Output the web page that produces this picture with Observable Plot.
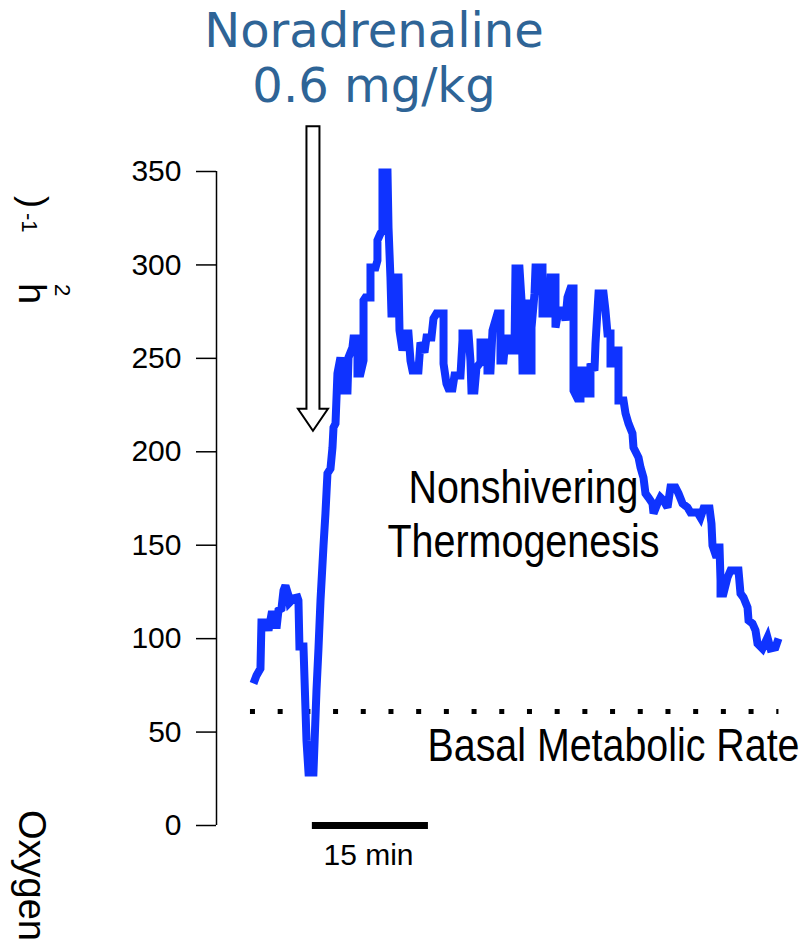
<!DOCTYPE html>
<html>
<head>
<meta charset="utf-8">
<script src="https://cdn.jsdelivr.net/npm/d3@7"></script>
<script src="https://cdn.jsdelivr.net/npm/@observablehq/plot@0.6"></script>
<style>
  body { margin: 0; background: #fff; }
  #wrap { position: relative; width: 803px; height: 949px; overflow: hidden; background: #fff; }
  #title { position: absolute; left: 0; top: 0; width: 748px; text-align: center;
           font-family: "DejaVu Sans", sans-serif; font-size: 48px; line-height: 55px;
           color: #2e6496; padding-top: 3px; }
  #chart { position: absolute; left: 0; top: 120px; }
  #ylab { position: absolute; left: 0; top: 0; pointer-events: none; }
</style>
</head>
<body>
<div id="wrap">
  <div id="title">Noradrenaline<br>0.6 mg/kg</div>
  <div id="chart"></div>
</div>
<script>
// ---- data (time in minutes from start of trace, oxygen consumption) ----
const minutes = [0.39,0.78,1.29,1.42,2.07,2.33,2.71,3.10,3.36,3.62,4.01,4.27,4.52,4.91,5.04,5.56,6.07,6.20,6.33,6.85,
  7.24,7.50,8.14,8.53,8.79,9.05,9.44,9.69,9.95,10.34,10.60,10.73,10.99,11.24,11.63,12.02,12.54,12.67,13.18,13.31,
  13.83,13.83,14.22,14.61,14.61,14.86,15.51,15.51,16.16,16.41,16.41,16.80,17.06,17.06,17.71,17.84,18.09,18.22,18.48,18.74,
  19.13,19.26,19.65,20.03,20.42,20.68,20.94,21.71,21.97,22.49,22.75,23.39,23.65,24.04,24.95,24.95,25.33,25.59,26.11,26.37,
  27.14,27.40,27.40,28.18,28.43,28.56,28.95,29.21,29.73,29.73,30.63,30.63,31.02,31.28,31.92,32.31,32.31,32.70,32.96,33.61,
  33.73,34.12,34.25,34.77,35.03,35.16,35.67,35.67,35.93,35.93,36.32,36.32,36.71,36.84,37.74,37.74,38.52,38.78,39.42,39.42,
  39.81,40.46,40.71,40.97,41.36,41.75,41.75,42.26,42.65,42.65,43.30,43.56,43.94,43.94,44.46,44.59,44.98,45.63,45.88,46.14,
  46.53,46.53,47.18,47.18,47.56,47.56,48.21,48.47,48.86,49.37,49.50,50.15,50.41,50.79,51.05,51.44,51.96,52.09,52.60,52.99,
  53.38,53.90,54.28,54.93,55.32,55.84,56.48,56.87,57.77,58.16,58.55,59.33,59.58,59.71,60.23,60.36,60.62,60.75,60.75,61.13,
  61.65,62.04,63.07,63.33,63.72,64.24,64.37,64.88,65.27,65.53,66.17,66.82,67.21,67.85,68.24];
const oxygen = [76.0,80.3,84.0,108.6,108.6,104.4,112.9,112.9,105.4,115.1,116.1,125.8,128.4,123.1,119.3,121.5,122.0,120.4,95.8,95.8,
  45.5,28.4,28.4,72.2,94.7,120.4,149.8,167.0,188.4,191.0,202.3,213.0,215.1,241.9,250.5,232.8,232.8,250.5,255.8,260.6,
  260.6,241.9,241.9,248.8,281.0,282.6,282.6,298.6,298.6,302.4,313.1,316.8,318.4,349.5,349.5,320.0,293.3,274.0,274.0,293.3,
  293.3,264.9,254.2,263.3,263.3,248.8,243.5,243.5,258.5,253.1,261.2,261.2,271.3,274.0,274.0,247.2,236.5,233.9,233.9,240.8,
  240.8,259.6,263.3,263.3,248.8,232.8,232.8,245.1,247.8,258.5,258.5,243.5,243.5,264.9,274.0,274.0,248.8,248.8,260.6,260.6,
  254.2,254.2,298.1,298.1,281.0,243.5,243.5,279.4,279.4,243.5,243.5,266.5,284.7,298.6,298.6,274.0,274.0,293.3,293.3,266.5,
  275.6,275.6,270.3,282.6,287.4,287.4,232.8,228.5,228.5,243.5,243.5,231.2,231.2,247.2,243.5,257.9,284.7,284.7,275.6,263.3,
  263.3,247.2,247.2,254.2,254.2,227.4,227.4,220.5,215.1,209.8,202.3,196.9,191.6,186.2,177.7,175.5,172.3,167.0,172.3,175.5,
  173.9,170.2,180.9,180.9,177.7,172.3,170.2,167.5,167.5,164.8,169.6,169.6,161.6,149.8,143.4,148.8,148.8,131.1,124.2,124.2,
  132.7,136.5,136.5,124.2,122.0,116.7,109.7,108.1,104.4,97.4,94.7,100.6,94.7,95.3,100.1];
const yTicks = [0, 50, 100, 150, 200, 250, 300, 350];
const basalRate = 61;            // basal metabolic rate level
const injectionTime = 8.14;      // noradrenaline injection (min)
const arrowTop = 374, arrowTip = 211;   // arrow extent in oxygen units
const scaleBarStart = 8.0, scaleBarLength = 15;   // "15 min" bar
const xMin = -4.39, xMax = 68.5;

const points = minutes.map((m, i) => ({m, v: oxygen[i]}));
const annFont = "'Liberation Sans', Arial, sans-serif";

const plot = Plot.plot({
  width: 803,
  height: 829,
  marginLeft: 216,
  marginRight: 23,
  marginTop: 51,
  marginBottom: 124,
  x: {domain: [xMin, xMax], axis: null},
  y: {domain: [0, 350], axis: null},
  style: {fontFamily: annFont, fontSize: "30px", background: "white", overflow: "visible", color: "black"},
  marks: [
    Plot.axisY(yTicks, {tickSize: 20, tickPadding: 15, tickFormat: d => String(d), strokeWidth: 1.5, label: null}),
    Plot.ruleX([xMin], {y1: 0, y2: 350, strokeWidth: 1.5}),
    Plot.ruleY([basalRate], {x1: 0, x2: 68.3, strokeWidth: 5, strokeDasharray: "5 22.7"}),
    Plot.ruleY([0], {x1: scaleBarStart, x2: scaleBarStart + scaleBarLength, strokeWidth: 7}),
    Plot.text(["15 min"], {x: scaleBarStart + scaleBarLength / 2 - 0.25, y: -9.6, lineAnchor: "top", textAnchor: "middle", fontSize: 30}),
    Plot.text(["Nonshivering"], {x: 35.28, y: 190, lineAnchor: "top", textAnchor: "middle", fontSize: 46}),
    Plot.text(["Thermogenesis"], {x: 35.28, y: 161.3, lineAnchor: "top", textAnchor: "middle", fontSize: 46}),
    Plot.text(["Basal Metabolic Rate"], {x: 22.88, y: 51.9, lineAnchor: "top", textAnchor: "start", fontSize: 46}),
    Plot.line(points, {x: "m", y: "v", stroke: "#0f33ff", strokeWidth: 8, strokeLinejoin: "miter", strokeMiterlimit: 3, strokeLinecap: "butt"})
  ]
});
document.getElementById("chart").appendChild(plot);

// condense the annotation texts to the widths of the reference lettering
const widths = {"Nonshivering": 230, "Thermogenesis": 272, "Basal Metabolic Rate": 372};
d3.select(plot).selectAll("text").each(function () {
  const w = widths[this.textContent];
  if (w) d3.select(this).attr("textLength", w).attr("lengthAdjust", "spacingAndGlyphs");
});

// hollow arrow marking the injection, positioned with the plot's scales
const sx = plot.scale("x"), sy = plot.scale("y");
const ax = sx.apply(injectionTime), at = sy.apply(arrowTop), ap = sy.apply(arrowTip);
d3.select(plot).append("path")
  .attr("d", `M${ax - 6.5},${at}H${ax + 6.5}V${ap - 22}H${ax + 15}L${ax},${ap}L${ax - 15},${ap - 22}H${ax - 6.5}Z`)
  .attr("fill", "white").attr("stroke", "black").attr("stroke-width", 2);

// y-axis label fragments (rotated clockwise, reading downward)
const lab = d3.select("#wrap").append("svg").attr("id", "ylab").attr("width", 803).attr("height", 949)
  .style("font-family", annFont);
const frags = [
  {t: "Oxygen", x: 19, y: 810, fs: 38},
  {t: "h", x: 19, y: 283, fs: 38},
  {t: "2", x: 55, y: 284, fs: 22},
  {t: "-1", x: 22, y: 213, fs: 22},
  {t: ")", x: 22, y: 196, fs: 36}
];
lab.selectAll("text").data(frags).join("text")
  .attr("transform", d => `translate(${d.x},${d.y}) rotate(90)`)
  .attr("font-size", d => d.fs)
  .attr("text-anchor", "start")
  .text(d => d.t);
</script>
</body>
</html>
